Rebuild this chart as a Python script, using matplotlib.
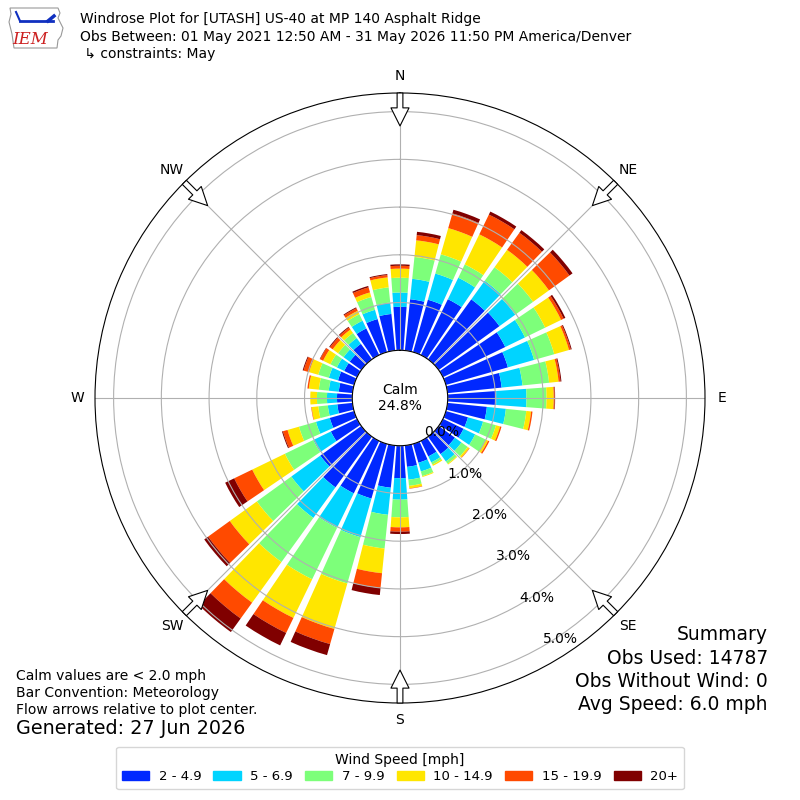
import numpy as np
import matplotlib
matplotlib.use("Agg")
import matplotlib.pyplot as plt
from matplotlib.patches import Patch, Polygon

# wind directions (deg, meteorological) and frequency (%) per speed bin
directions = np.arange(0, 360, 10)
speed_labels = ["2 - 4.9", "5 - 6.9", "7 - 9.9", "10 - 14.9", "15 - 19.9", "20+"]
speed_colors = ["#0028ff", "#00d4ff", "#7dff7a", "#ffe600", "#ff4a00", "#800000"]

spd_2_5 = [0.91, 1.08, 1.14, 1.30, 1.55, 1.57, 1.45, 1.35, 1.14, 1.02, 0.83, 0.48,
           0.48, 0.42, 0.45, 0.36, 0.41, 0.45, 0.68, 0.89, 1.19, 1.22, 1.31, 1.06,
           0.61, 0.53, 0.32, 0.32, 0.29, 0.35, 0.30, 0.30, 0.40, 0.62, 0.72, 0.77]
spd_5_7 = [0.30, 0.43, 0.57, 0.50, 0.48, 0.41, 0.46, 0.57, 0.44, 0.63, 0.40, 0.33,
           0.27, 0.17, 0.19, 0.14, 0.19, 0.27, 0.45, 0.57, 0.84, 0.80, 0.79, 0.75,
           0.41, 0.30, 0.20, 0.21, 0.21, 0.20, 0.17, 0.16, 0.15, 0.18, 0.20, 0.24]
spd_7_10 = [0.31, 0.46, 0.42, 0.31, 0.35, 0.46, 0.47, 0.44, 0.56, 0.42, 0.43, 0.28,
            0.25, 0.16, 0.06, 0.05, 0.10, 0.13, 0.37, 0.71, 1.01, 1.20, 1.14, 0.89,
            0.66, 0.37, 0.20, 0.21, 0.21, 0.23, 0.15, 0.14, 0.13, 0.15, 0.28, 0.32]
spd_10_15 = [0.19, 0.35, 0.57, 0.70, 0.45, 0.41, 0.37, 0.32, 0.20, 0.15, 0.10, 0.09,
             0.05, 0.04, 0.02, 0.03, 0.02, 0.05, 0.21, 0.52, 0.99, 0.90, 1.05, 0.70,
             0.76, 0.25, 0.14, 0.14, 0.21, 0.20, 0.17, 0.14, 0.09, 0.08, 0.10, 0.21]
spd_15_20 = [0.06, 0.11, 0.32, 0.46, 0.44, 0.53, 0.06, 0.04, 0.04, 0.02, 0.03, 0.03,
             0.03, 0.01, 0.00, 0.00, 0.00, 0.01, 0.09, 0.31, 0.33, 0.35, 0.41, 0.56,
             0.42, 0.10, 0.01, 0.00, 0.03, 0.12, 0.07, 0.07, 0.05, 0.06, 0.11, 0.05]
spd_20 = [0.03, 0.07, 0.08, 0.07, 0.07, 0.08, 0.04, 0.02, 0.02, 0.01, 0.00, 0.00,
          0.00, 0.00, 0.00, 0.00, 0.00, 0.00, 0.05, 0.15, 0.24, 0.29, 0.35, 0.10,
          0.21, 0.02, 0.00, 0.00, 0.00, 0.02, 0.01, 0.02, 0.02, 0.02, 0.03, 0.02]
series = [spd_2_5, spd_5_7, spd_7_10, spd_10_15, spd_15_20, spd_20]

calm_pct = 24.8
r_ticks = [0, 1, 2, 3, 4, 5]
compass = ["N", "NE", "E", "SE", "S", "SW", "W", "NW"]
rmax = 5.39

fig = plt.figure(figsize=(8, 8), dpi=100)
ax = fig.add_axes([95 / 800, 97 / 800, 610 / 800, 610 / 800], projection="polar")
ax.set_theta_zero_location("N")
ax.set_theta_direction(-1)

theta = np.deg2rad(directions)
bottom = np.zeros(len(directions))
for vals, col in zip(series, speed_colors):
    vals = np.array(vals)
    ax.bar(theta, vals, width=np.deg2rad(8.3), bottom=bottom, color=col,
           edgecolor="none", zorder=1)
    bottom += vals

ax.set_ylim(0, rmax)
ax.set_rorigin(-1)
ax.set_yticks(r_ticks)
ax.set_yticklabels(["%.1f%%" % v for v in r_ticks], fontsize=10)
ax.set_rlabel_position(150)
ax.set_xticks(np.deg2rad(np.arange(0, 360, 45)))
ax.set_xticklabels(compass, fontsize=10)
ax.tick_params(axis="x", pad=2)
ax.grid(color="#b0b0b0", lw=0.8)

ax.text(0.5, 0.5, "Calm\n%.1f%%" % calm_pct, transform=ax.transAxes,
        ha="center", va="center", fontsize=10)

# flow arrows, pointing to the plot center
for ang in np.arange(0, 360, 45):
    ax.annotate("", xy=(np.deg2rad(ang), 4.70), xytext=(np.deg2rad(ang), rmax),
                arrowprops=dict(arrowstyle="simple,head_length=1.0,head_width=1.0,tail_width=0.32",
                                mutation_scale=13, fc="white", ec="black", lw=0.8,
                                shrinkA=0, shrinkB=0),
                zorder=5)

# header
fig.text(80 / 800, 1 - 19 / 800, "Windrose Plot for [UTASH] US-40 at MP 140 Asphalt Ridge",
         fontsize=10, va="center")
fig.text(80 / 800, 1 - 37 / 800,
         "Obs Between: 01 May 2021 12:50 AM - 31 May 2026 11:50 PM America/Denver",
         fontsize=10, va="center")
fig.text(80 / 800, 1 - 54 / 800, " \u21b3 constraints: May", fontsize=10, va="center")

# rough IEM logo
lax = fig.add_axes([8 / 800, 1 - 50 / 800, 58 / 800, 46 / 800])
lax.set_xlim(0, 58)
lax.set_ylim(46, 0)
lax.axis("off")
lax.add_patch(Polygon([[2, 4], [50, 4], [52, 9], [50, 14], [55, 24], [53, 32], [50, 36],
                       [49, 44], [6, 44], [4, 30], [1, 18], [3, 10]],
                      closed=True, fill=False, ec="#999999", lw=0.8))
lax.plot([12, 45], [17, 17], color="#1030c0", lw=2)
lax.plot([12, 8], [17, 8], color="#1030c0", lw=1.5)
lax.plot([40, 46], [17, 12], color="#1030c0", lw=2.5)
lax.text(22, 36, "IEM", color="#cc2020", fontsize=12, fontstyle="italic",
         family="DejaVu Serif", ha="center", va="center")

# notes bottom left
fig.text(16 / 800, 1 - 676 / 800, "Calm values are < 2.0 mph", fontsize=10, va="center")
fig.text(16 / 800, 1 - 693 / 800, "Bar Convention: Meteorology", fontsize=10, va="center")
fig.text(16 / 800, 1 - 710 / 800, "Flow arrows relative to plot center.", fontsize=10, va="center")
fig.text(16 / 800, 1 - 729 / 800, "Generated: 27 Jun 2026", fontsize=13.8, va="center")

# summary bottom right
summary = ["Summary", "Obs Used: 14787", "Obs Without Wind: 0", "Avg Speed: 6.0 mph"]
for i, line in enumerate(summary):
    fig.text(768 / 800, 1 - (635 + 23.3 * i) / 800, line, fontsize=13.5,
             ha="right", va="center")

handles = [Patch(color=c) for c in speed_colors]
leg = fig.legend(handles, speed_labels, loc="center", bbox_to_anchor=(0.5, 1 - 768 / 800),
                 ncol=6, fontsize=9.5, title="Wind Speed [mph]", title_fontsize=10,
                 handlelength=2.08, handleheight=0.7, handletextpad=0.7,
                 columnspacing=0.93, borderpad=0.45, labelspacing=0.3)

fig.savefig("out.png", dpi=100)
